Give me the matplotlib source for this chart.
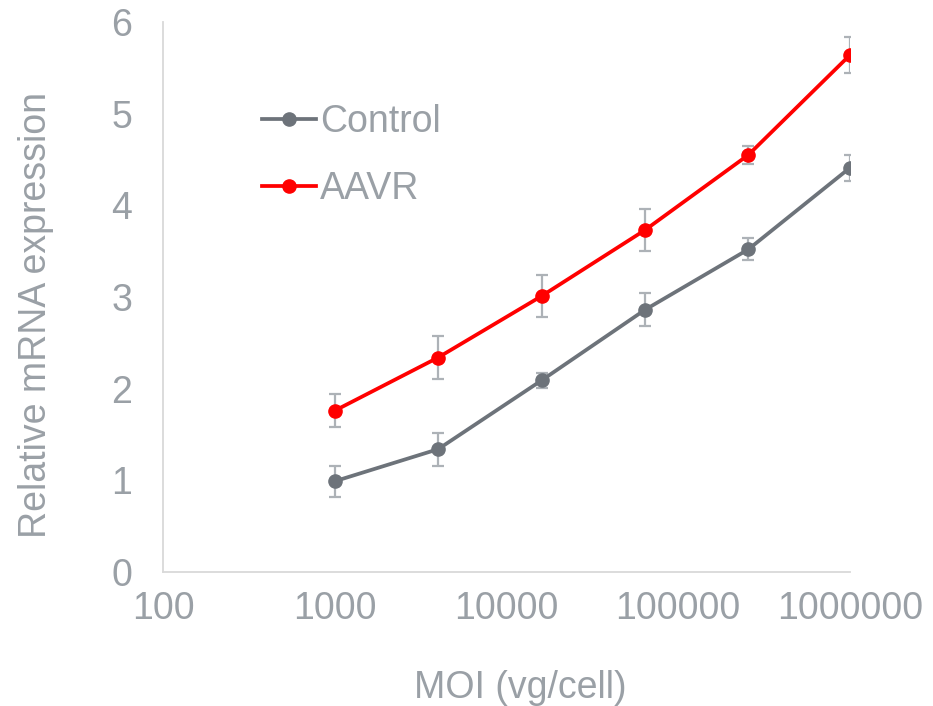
import matplotlib
matplotlib.use("Agg")
import matplotlib.pyplot as plt
from matplotlib.ticker import FixedLocator, FuncFormatter

plt.rcParams['font.family'] = ['Liberation Sans', 'DejaVu Sans']

moi = [1000, 4000, 16000, 64000, 256000, 1000000]
control = [0.99, 1.34, 2.09, 2.86, 3.52, 4.41]
control_err = [0.17, 0.18, 0.08, 0.18, 0.12, 0.14]
aavr = [1.76, 2.34, 3.01, 3.73, 4.55, 5.64]
aavr_err = [0.18, 0.23, 0.23, 0.23, 0.10, 0.20]
xticks = [100, 1000, 10000, 100000, 1000000]
yticks = [0, 1, 2, 3, 4, 5, 6]

txt = '#9aa0a6'
fs = 27
fig = plt.figure(figsize=(9.33, 7.06), dpi=100)
ax = fig.add_axes([0.1747, 0.1898, 0.7363, 0.779])

ax.errorbar(moi, control, yerr=control_err, fmt='none', ecolor='#adb2b7',
            elinewidth=1.6, capsize=4.5, capthick=1.6, zorder=2)
ax.errorbar(moi, aavr, yerr=aavr_err, fmt='none', ecolor='#adb2b7',
            elinewidth=1.6, capsize=4.5, capthick=1.6, zorder=2)
ax.plot(moi, control, color='#6d737a', lw=2.7, marker='o', ms=9.5, label='Control', zorder=3)
ax.plot(moi, aavr, color='#ff0000', lw=2.7, marker='o', ms=9.5, label='AAVR', zorder=4)

ax.set_xscale('log')
ax.set_xlim(100, 1000000)
ax.set_ylim(0, 6)
ax.xaxis.set_major_locator(FixedLocator(xticks))
ax.xaxis.set_minor_locator(FixedLocator([]))
ax.xaxis.set_major_formatter(FuncFormatter(lambda v, p: f"{int(round(v))}"))
ax.yaxis.set_major_locator(FixedLocator(yticks))
ax.tick_params(axis='both', length=0, labelsize=fs, colors=txt)
ax.tick_params(axis='x', pad=14)
ax.tick_params(axis='y', pad=22)
for s in ['top', 'right']:
    ax.spines[s].set_visible(False)
for s in ['left', 'bottom']:
    ax.spines[s].set_color('#d9d9d9')
    ax.spines[s].set_linewidth(1.3)

fig.text(520 / 933, 1 - 688 / 706, 'MOI (vg/cell)', fontsize=fs, color=txt,
         ha='center', va='center')
fig.text(36 / 933, 1 - 315 / 706, 'Relative mRNA expression', fontsize=fs, color=txt,
         ha='center', va='center', rotation=90)

leg = ax.legend(loc='upper left', bbox_to_anchor=(262 / 933, 1 - 104 / 706),
                bbox_transform=fig.transFigure, frameon=False, borderpad=0,
                borderaxespad=0, fontsize=fs, labelcolor=txt, handlelength=1.44,
                handletextpad=0.11, labelspacing=0.82)

fig.savefig('out.png', dpi=100)
